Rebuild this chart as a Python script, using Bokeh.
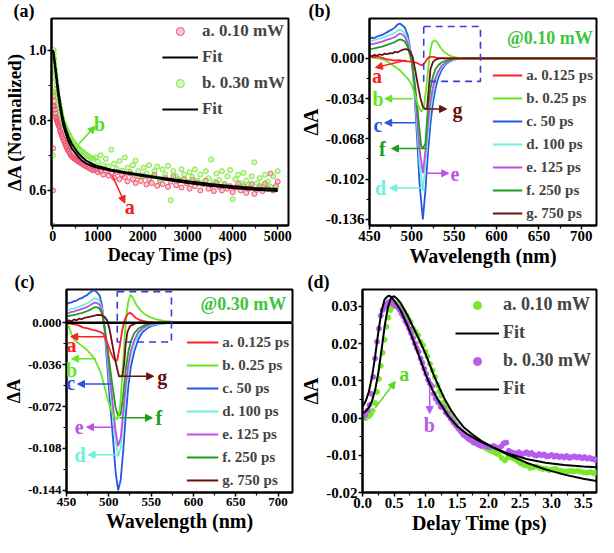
from bokeh.plotting import figure
from bokeh.layouts import row, column
from bokeh.models import (Range1d, FixedTicker, PrintfTickFormatter, Legend, LegendItem,
                          Label, Arrow, NormalHead, Span, BoxAnnotation, Title)
from bokeh.embed import file_html
from bokeh.resources import INLINE

FONT = "Liberation Serif"

# ---------------- panel (a) data: (time ps, normalized dA) ----------------
A_RED = [(0,0.50),(4,0.60),(8,0.72),(12,0.84),(16,0.88),(22,0.87),(30,0.855),(40,0.84),(50,0.83),(60,0.82),
         (70,0.81),(80,0.805),(90,0.80),(100,0.795),(115,0.79),(130,0.785),(145,0.78),(160,0.77),(175,0.765),
         (190,0.76),(210,0.752),(230,0.746),(250,0.74),(270,0.733),(290,0.727),(310,0.722),(330,0.716),
         (350,0.712),(375,0.706),(400,0.70),(425,0.697),(450,0.694),(480,0.69),(510,0.688),(540,0.685),
         (570,0.682),(600,0.68),(640,0.676),(680,0.673),(720,0.67),(760,0.668),(800,0.664),(850,0.66),
         (900,0.657),(950,0.66),(1000,0.652),(1060,0.655),(1120,0.645),(1180,0.656),(1240,0.642),(1300,0.65),
         (1360,0.636),(1420,0.652),(1480,0.632),(1540,0.645),(1600,0.638),(1660,0.626),(1720,0.648),
         (1780,0.632),(1840,0.621),(1900,0.64),(1960,0.627),(2020,0.641),(2080,0.617),(2140,0.633),
         (2200,0.621),(2260,0.644),(2320,0.613),(2380,0.628),(2440,0.618),(2500,0.635),(2560,0.61),
         (2620,0.625),(2680,0.64),(2740,0.615),(2800,0.628),(2860,0.608),(2920,0.632),(2980,0.62),
         (3040,0.605),(3100,0.63),(3160,0.612),(3220,0.622),(3280,0.60),(3340,0.618),(3400,0.628),
         (3460,0.605),(3520,0.615),(3580,0.598),(3640,0.622),(3700,0.61),(3760,0.60),(3820,0.618),
         (3880,0.605),(3940,0.612),(4000,0.595),(4060,0.608),(4120,0.62),(4180,0.60),(4240,0.612),
         (4300,0.593),(4360,0.605),(4420,0.618),(4480,0.59),(4540,0.602),(4600,0.612),(4660,0.598),
         (4720,0.62),(4780,0.605),(4840,0.648),(4900,0.60),(4960,0.612),(5000,0.625)]
A_GRN = [(0,0.50),(4,0.70),(8,0.88),(12,0.97),(16,1.0),(22,0.99),(30,0.975),(40,0.96),(50,0.945),(60,0.93),
         (70,0.915),(80,0.90),(90,0.89),(100,0.88),(115,0.865),(130,0.855),(145,0.845),(160,0.835),
         (175,0.825),(190,0.815),(210,0.805),(230,0.795),(250,0.79),(270,0.782),(290,0.776),(310,0.77),
         (330,0.765),(350,0.76),(375,0.755),(400,0.748),(425,0.742),(450,0.738),(480,0.733),(510,0.728),
         (540,0.725),(570,0.72),(600,0.716),(640,0.712),(680,0.708),(720,0.704),(760,0.70),(800,0.697),
         (850,0.692),(900,0.69),(950,0.694),(1000,0.682),(1060,0.70),(1120,0.672),(1180,0.69),(1240,0.668),
         (1300,0.716),(1360,0.676),(1420,0.662),(1480,0.684),(1540,0.656),(1600,0.694),(1660,0.665),
         (1720,0.652),(1780,0.672),(1840,0.685),(1900,0.655),(1960,0.642),(2020,0.665),(2080,0.648),
         (2140,0.672),(2200,0.64),(2260,0.655),(2320,0.668),(2380,0.63),(2440,0.66),(2500,0.645),
         (2560,0.67),(2620,0.572),(2680,0.655),(2740,0.64),(2800,0.632),(2860,0.66),(2920,0.645),
         (2980,0.625),(3040,0.652),(3100,0.638),(3160,0.66),(3220,0.628),(3280,0.645),(3340,0.62),
         (3400,0.655),(3460,0.635),(3520,0.688),(3580,0.625),(3640,0.648),(3700,0.63),(3760,0.655),
         (3820,0.618),(3880,0.64),(3940,0.658),(4000,0.575),(4060,0.632),(4120,0.645),(4180,0.62),
         (4240,0.65),(4300,0.628),(4360,0.615),(4420,0.64),(4480,0.68),(4540,0.62),(4600,0.635),
         (4660,0.612),(4720,0.645),(4780,0.625),(4840,0.61),(4900,0.64),(4960,0.605),(5000,0.655)]
A_FIT_1 = [(0,1.0),(20,0.985),(40,0.96),(75,0.92),(110,0.88),(142,0.85),(175,0.825),(210,0.80),(245,0.78),
           (290,0.76),(345,0.74),(420,0.72),(550,0.698),(650,0.685),(750,0.676),(950,0.666),(1300,0.656),
           (1650,0.648),(2000,0.641),(2300,0.635),(2700,0.627),(3000,0.621),(3500,0.613),(4000,0.607),
           (4500,0.602),(5000,0.598)]
A_FIT_2 = [(0,1.0),(20,0.99),(40,0.97),(75,0.935),(110,0.898),(142,0.868),(175,0.84),(210,0.815),(245,0.795),
           (290,0.774),(345,0.754),(420,0.733),(550,0.708),(650,0.695),(750,0.684),(950,0.671),(1300,0.659),
           (1650,0.651),(2000,0.644),(2300,0.638),(2700,0.631),(3000,0.626),(3500,0.618),(4000,0.612),
           (4500,0.607),(5000,0.604)]
A_XTICKS = [0, 1000, 2000, 3000, 4000, 5000]
A_YTICKS = [0.6, 0.8, 1.0]

# ---------------- panel (b) data: (wavelength nm, dA) @0.10 mW ----------------
B_A = [(450,0.0018),(455,0.001),(460,0.0016),(465,0.0004),(470,-0.0006),(475,-0.0012),(480,-0.0018),
       (485,-0.0015),(490,-0.0022),(495,-0.0025),(500,-0.003),(505,-0.0035),(509,-0.005),(512,-0.0058),
       (515,-0.004),(518,-0.0005),(521,0.0012),(525,0.0012),(530,0.0005),(540,0.0),(718,0.0)]
B_B = [(450,0.001),(455,0.0005),(460,0.0),(465,-0.0008),(470,-0.002),(475,-0.0045),(480,-0.007),
       (485,-0.0095),(490,-0.013),(495,-0.017),(499,-0.021),(503,-0.029),(507,-0.039),(511,-0.045),
       (514,-0.042),(517,-0.025),(520,-0.004),(522,0.007),(524,0.0135),(527,0.0155),(530,0.0135),
       (534,0.009),(538,0.0055),(543,0.003),(548,0.0015),(555,0.0005),(565,0.0),(718,0.0)]
B_C = [(450,0.0165),(453,0.0175),(456,0.0172),(459,0.0185),(462,0.0192),(465,0.0198),(468,0.021),
       (471,0.0222),(474,0.0235),(477,0.0245),(480,0.0262),(483,0.0285),(486,0.0295),(489,0.0278),
       (492,0.0255),(495,0.020),(498,0.008),(500,0.0),(503,-0.028),(506,-0.065),(509,-0.105),(513,-0.136),
       (516,-0.112),(519,-0.08),(522,-0.055),(525,-0.037),(528,-0.025),(531,-0.017),(535,-0.010),
       (540,-0.005),(545,-0.0025),(550,-0.001),(556,0.0),(718,0.0)]
B_D = [(450,0.0145),(453,0.015),(456,0.0155),(459,0.016),(462,0.0168),(465,0.0172),(468,0.018),
       (471,0.019),(474,0.0198),(477,0.0205),(480,0.0215),(483,0.0235),(486,0.0245),(489,0.023),
       (492,0.021),(495,0.016),(498,0.006),(500,-0.002),(503,-0.025),(506,-0.055),(509,-0.088),
       (513,-0.112),(516,-0.09),(519,-0.063),(522,-0.043),(525,-0.029),(528,-0.019),(531,-0.013),
       (535,-0.008),(540,-0.004),(545,-0.002),(550,-0.001),(556,0.0),(718,0.0)]
B_E = [(450,0.0115),(453,0.012),(456,0.0125),(459,0.013),(462,0.0138),(465,0.0142),(468,0.015),
       (471,0.0158),(474,0.0165),(477,0.0172),(480,0.018),(483,0.0198),(486,0.021),(489,0.020),
       (492,0.018),(495,0.013),(498,0.004),(500,-0.003),(503,-0.022),(506,-0.048),(509,-0.076),
       (513,-0.097),(516,-0.078),(519,-0.054),(522,-0.036),(525,-0.024),(528,-0.016),(531,-0.011),
       (535,-0.0065),(540,-0.0035),(545,-0.0015),(550,-0.0005),(556,0.0),(718,0.0)]
B_F = [(450,0.0078),(453,0.008),(456,0.0085),(459,0.009),(462,0.0096),(465,0.010),(468,0.0108),
       (471,0.0115),(474,0.0122),(477,0.013),(480,0.0138),(483,0.0152),(486,0.016),(489,0.0155),
       (492,0.014),(495,0.010),(498,0.002),(500,-0.004),(503,-0.018),(506,-0.038),(509,-0.06),
       (511,-0.074),(513,-0.076),(516,-0.072),(519,-0.042),(522,-0.025),(525,-0.015),(528,-0.009),
       (531,-0.006),(535,-0.0035),(540,-0.002),(545,-0.001),(550,0.0),(718,0.0)]
B_G = [(450,0.0025),(453,0.0018),(456,0.003),(459,0.0022),(462,0.0035),(465,0.0028),(468,0.004),
       (471,0.0035),(474,0.0045),(477,0.0042),(480,0.0055),(483,0.005),(486,0.0062),(489,0.0072),
       (492,0.0078),(495,0.0075),(498,0.006),(501,0.001),(504,-0.010),(507,-0.022),(510,-0.033),
       (513,-0.041),(516,-0.043),(518,-0.042),(520,-0.025),(522,-0.009),(525,-0.003),(528,-0.001),
       (532,0.0),(718,0.0)]
B_XTICKS = [450, 500, 550, 600, 650, 700]
B_YTICKS = [0.0, -0.034, -0.068, -0.102, -0.136]

# ---------------- panel (c) data: (wavelength nm, dA) @0.30 mW ----------------
C_A = [(450,0.0),(455,-0.001),(460,-0.0015),(465,-0.0025),(470,-0.0042),(475,-0.0048),(480,-0.006),
       (485,-0.0068),(490,-0.008),(493,-0.0092),(496,-0.013),(499,-0.019),(502,-0.025),(505,-0.030),
       (508,-0.033),(510,-0.032),(513,-0.020),(516,-0.006),(519,0.003),(522,0.0072),(525,0.0085),
       (528,0.007),(532,0.004),(536,0.0025),(540,0.0015),(547,0.0005),(555,0.0),(717,0.0)]
C_B = [(450,0.001),(453,-0.004),(456,-0.010),(459,-0.0145),(462,-0.0165),(465,-0.018),(470,-0.021),
       (475,-0.024),(480,-0.028),(483,-0.031),(487,-0.037),(490,-0.042),(494,-0.052),(498,-0.064),
       (502,-0.074),(506,-0.080),(510,-0.083),(513,-0.075),(516,-0.045),(519,-0.010),(521,0.008),
       (523,0.018),(525.5,0.024),(528,0.022),(532,0.016),(537,0.011),(542,0.0075),(548,0.005),
       (555,0.003),(565,0.0015),(580,0.0005),(600,0.0),(717,0.0)]
C_C = [(450,0.0158),(453,0.017),(456,0.0175),(459,0.0185),(462,0.019),(465,0.0205),(468,0.021),
       (471,0.0225),(474,0.0235),(477,0.0255),(480,0.027),(483,0.0278),(486,0.026),(489,0.0235),
       (492,0.015),(495,-0.006),(498,-0.035),(501,-0.065),(505,-0.100),(508,-0.128),(511,-0.144),
       (514,-0.135),(517,-0.110),(520,-0.080),(523,-0.055),(526,-0.038),(530,-0.025),(535,-0.014),
       (540,-0.008),(545,-0.005),(550,-0.003),(560,-0.001),(575,0.0),(717,0.0)]
C_D = [(450,0.0105),(453,0.011),(456,0.0118),(459,0.012),(462,0.0132),(465,0.0138),(468,0.0145),
       (471,0.0155),(474,0.0165),(477,0.0178),(480,0.0195),(483,0.021),(486,0.0205),(489,0.0185),
       (492,0.012),(495,-0.004),(498,-0.028),(501,-0.052),(505,-0.082),(508,-0.102),(511,-0.115),
       (514,-0.107),(517,-0.084),(520,-0.060),(523,-0.041),(526,-0.028),(530,-0.018),(535,-0.010),
       (540,-0.006),(545,-0.0035),(550,-0.002),(560,-0.0008),(575,0.0),(717,0.0)]
C_E = [(450,0.0079),(453,0.0085),(456,0.0092),(459,0.0095),(462,0.0105),(465,0.011),(468,0.0118),
       (471,0.0125),(474,0.0135),(477,0.0145),(480,0.016),(483,0.0172),(486,0.017),(489,0.0155),
       (492,0.010),(495,-0.004),(498,-0.024),(501,-0.045),(505,-0.072),(508,-0.093),(511,-0.106),
       (514,-0.099),(517,-0.077),(520,-0.053),(523,-0.036),(526,-0.024),(530,-0.015),(535,-0.008),
       (540,-0.0045),(545,-0.0025),(550,-0.0012),(560,-0.0004),(575,0.0),(717,0.0)]
C_F = [(450,0.0053),(453,0.0058),(456,0.0062),(459,0.0066),(462,0.0072),(465,0.0078),(468,0.0083),
       (471,0.009),(474,0.0098),(477,0.0108),(480,0.012),(483,0.0132),(486,0.0133),(489,0.012),
       (492,0.0075),(495,-0.004),(498,-0.019),(501,-0.036),(505,-0.058),(508,-0.073),(511,-0.080),
       (514,-0.079),(517,-0.062),(520,-0.040),(523,-0.025),(526,-0.016),(530,-0.009),(535,-0.005),
       (540,-0.003),(545,-0.0015),(550,-0.0006),(560,0.0),(717,0.0)]
C_G = [(450,0.0005),(453,0.002),(456,0.0012),(459,0.0028),(462,0.002),(465,0.0035),(468,0.003),
       (471,0.0042),(474,0.0045),(477,0.005),(480,0.0055),(483,0.006),(486,0.0066),(489,0.0068),
       (492,0.0062),(495,0.005),(498,0.002),(501,-0.006),(504,-0.018),(507,-0.030),(510,-0.040),
       (512,-0.046),(516,-0.046),(518,-0.036),(520,-0.018),(522,-0.008),(525,-0.003),(530,-0.001),
       (535,0.0),(717,0.0)]
C_XTICKS = [450, 500, 550, 600, 650, 700]
C_YTICKS = [0.0, -0.036, -0.072, -0.108, -0.144]

# ---------------- panel (d) data: (delay ps, dA) ----------------
D_GRN = [(0.0,-0.0003),(0.05,0.0),(0.1,0.0005),(0.13,0.001),(0.16,0.002),(0.2,0.004),(0.23,0.007),
         (0.26,0.0105),(0.29,0.014),(0.32,0.0175),(0.35,0.021),(0.38,0.0245),(0.41,0.027),(0.44,0.029),
         (0.47,0.030),(0.5,0.0305),(0.53,0.0308),(0.56,0.0305),(0.6,0.030),(0.63,0.0292),(0.66,0.0285),
         (0.7,0.0275),(0.73,0.0265),(0.76,0.0258),(0.8,0.024),(0.84,0.0232),(0.88,0.0222),(0.92,0.0205),
         (0.96,0.0195),(1.0,0.0178),(1.03,0.0165),(1.07,0.0145),(1.11,0.0128),(1.15,0.011),(1.19,0.0088),
         (1.22,0.0072),(1.25,0.006),(1.29,0.0042),(1.33,0.0028),(1.37,0.0015),(1.41,0.0003),(1.45,-0.0008),
         (1.49,-0.0018),(1.53,-0.003),(1.57,-0.0038),(1.61,-0.0045),(1.66,-0.005),(1.71,-0.0055),
         (1.76,-0.006),(1.81,-0.0066),(1.86,-0.0072),(1.91,-0.0076),(1.96,-0.0082),(2.01,-0.0086),
         (2.06,-0.009),(2.11,-0.0094),(2.16,-0.0098),(2.21,-0.0108),(2.26,-0.0114),(2.31,-0.0105),
         (2.36,-0.0106),(2.41,-0.011),(2.46,-0.0116),(2.51,-0.0122),(2.56,-0.0126),(2.61,-0.0128),
         (2.66,-0.0134),(2.71,-0.0132),(2.76,-0.013),(2.81,-0.0134),(2.86,-0.0137),(2.91,-0.0136),
         (2.96,-0.014),(3.01,-0.0138),(3.06,-0.0136),(3.11,-0.0141),(3.16,-0.0142),(3.21,-0.0144),
         (3.26,-0.0143),(3.31,-0.0142),(3.36,-0.0143),(3.41,-0.0142),(3.46,-0.0144),(3.51,-0.0146),
         (3.56,-0.0147),(3.61,-0.0145),(3.66,-0.0148),(3.7,-0.0146)]
D_PUR = [(0.0,0.0),(0.04,0.0008),(0.08,0.002),(0.11,0.0035),(0.14,0.0065),(0.17,0.011),(0.2,0.016),
         (0.23,0.0205),(0.26,0.024),(0.29,0.0275),(0.32,0.029),(0.35,0.0298),(0.38,0.0305),(0.41,0.031),
         (0.44,0.0312),(0.47,0.0308),(0.5,0.0305),(0.53,0.030),(0.56,0.0298),(0.59,0.029),(0.62,0.028),
         (0.65,0.0272),(0.68,0.026),(0.71,0.0252),(0.74,0.024),(0.77,0.0228),(0.8,0.0215),(0.83,0.020),
         (0.86,0.0188),(0.89,0.0178),(0.92,0.016),(0.95,0.0148),(0.98,0.0132),(1.01,0.0118),(1.04,0.0102),
         (1.07,0.0092),(1.1,0.0085),(1.13,0.0065),(1.16,0.0052),(1.2,0.0042),(1.24,0.003),(1.28,0.0028),
         (1.32,0.0015),(1.36,0.0008),(1.4,-0.0002),(1.44,-0.0012),(1.48,-0.002),(1.52,-0.0028),
         (1.56,-0.0036),(1.6,-0.0045),(1.64,-0.005),(1.68,-0.0056),(1.72,-0.006),(1.76,-0.0066),
         (1.8,-0.0068),(1.84,-0.0072),(1.88,-0.0075),(1.92,-0.0074),(1.96,-0.0076),(2.0,-0.0078),
         (2.04,-0.0077),(2.08,-0.0075),(2.12,-0.0079),(2.16,-0.0081),(2.2,-0.0076),(2.24,-0.0068),
         (2.28,-0.0066),(2.32,-0.0088),(2.36,-0.0092),(2.4,-0.0094),(2.44,-0.0096),(2.48,-0.0092),
         (2.52,-0.0098),(2.56,-0.0095),(2.6,-0.0092),(2.64,-0.0097),(2.68,-0.0094),(2.72,-0.0099),
         (2.76,-0.0101),(2.8,-0.0097),(2.84,-0.010),(2.88,-0.0098),(2.92,-0.0103),(2.96,-0.0102),
         (3.0,-0.0099),(3.04,-0.0104),(3.08,-0.0101),(3.12,-0.0105),(3.16,-0.0103),(3.2,-0.0106),
         (3.24,-0.0102),(3.28,-0.0107),(3.32,-0.0105),(3.36,-0.0103),(3.4,-0.0106),(3.44,-0.0104),
         (3.48,-0.0108),(3.52,-0.0105),(3.56,-0.0109),(3.6,-0.0107),(3.64,-0.011),(3.68,-0.0111),(3.7,-0.0113)]
D_FIT_A = [(0.0,0.0012),(0.05,0.0018),(0.1,0.0028),(0.15,0.0045),(0.2,0.0075),(0.25,0.012),(0.3,0.018),
           (0.35,0.0245),(0.4,0.0295),(0.45,0.0322),(0.5,0.0327),(0.55,0.032),(0.6,0.031),(0.7,0.028),
           (0.8,0.0245),(0.9,0.021),(1.0,0.0172),(1.13,0.0115),(1.2,0.0088),(1.3,0.0052),(1.4,0.0022),
           (1.49,0.0),(1.6,-0.0024),(1.75,-0.0045),(1.9,-0.0063),(2.06,-0.0078),(2.3,-0.0098),
           (2.6,-0.012),(2.9,-0.0138),(3.2,-0.0152),(3.5,-0.0163),(3.71,-0.0169)]
D_FIT_B = [(0.0,0.003),(0.05,0.0045),(0.1,0.007),(0.15,0.011),(0.2,0.0165),(0.25,0.023),(0.3,0.0285),
           (0.35,0.0318),(0.4,0.0327),(0.43,0.0328),(0.47,0.0322),(0.5,0.0316),(0.6,0.029),(0.7,0.0253),
           (0.8,0.0212),(0.9,0.0165),(1.0,0.0118),(1.1,0.0078),(1.2,0.0048),(1.36,0.0005),(1.5,-0.0022),
           (1.65,-0.0042),(1.83,-0.006),(2.06,-0.0078),(2.3,-0.0095),(2.6,-0.011),(2.9,-0.012),
           (3.2,-0.0126),(3.5,-0.013),(3.71,-0.0132)]
D_XTICKS = [0.0, 0.5, 1.0, 1.5, 2.0, 2.5, 3.0, 3.5]
D_YTICKS = [-0.02, -0.01, 0.0, 0.01, 0.02, 0.03]

# ---------------- colours ----------------
COL = dict(a="#ff2020", b="#66e626", c="#2a55e0", d="#6ff0dc", e="#c24ee8", f="#1e9e1e", g="#6b1111")
A_RED_COL = "#f0506e"
A_GRN_COL = "#7fe83a"
D_GRN_COL = "#7ae82a"
D_PUR_COL = "#b85cf0"
BOX_COL = "#3b3bd6"
NOTE_COL = "#3ec43e"


def split(pairs):
    return [p[0] for p in pairs], [p[1] for p in pairs]


def midpoints(t):
    return [(t[i] + t[i + 1]) / 2 for i in range(len(t) - 1)]


def make_fig(w, h, xr, yr, bl, br, bt, bb, letter, letter_dx):
    p = figure(width=w, height=h, x_range=Range1d(*xr), y_range=Range1d(*yr),
               output_backend="svg", toolbar_location=None,
               min_border_left=bl, min_border_right=br, min_border_top=bt, min_border_bottom=bb)
    # panel letter drawn as a title in the top border, shifted left of the frame
    p.title = Title(text=letter, align="left", offset=letter_dx, standoff=-4, vertical_align="bottom",
                    text_font=FONT, text_font_style="bold", text_font_size="18px", text_color="black")
    p.grid.visible = False
    p.outline_line_color = "black"
    p.outline_line_width = 2
    p.outline_line_alpha = 1
    return p


def style_axes(p, xlabel, ylabel, xt, yt, xfmt, yfmt, tick_px, xtitle_px, ytitle_px):
    p.xaxis.axis_label = xlabel
    p.yaxis.axis_label = ylabel
    p.xaxis.ticker = FixedTicker(ticks=xt, minor_ticks=midpoints(xt))
    p.yaxis.ticker = FixedTicker(ticks=yt, minor_ticks=midpoints(yt))
    p.xaxis.formatter = PrintfTickFormatter(format=xfmt)
    p.yaxis.formatter = PrintfTickFormatter(format=yfmt)
    for ax, tp in ((p.xaxis[0], xtitle_px), (p.yaxis[0], ytitle_px)):
        ax.axis_line_width = 2
        ax.major_tick_in = 0
        ax.major_tick_out = 4
        ax.minor_tick_in = 0
        ax.minor_tick_out = 3
        ax.major_tick_line_width = 1.5
        ax.minor_tick_line_width = 1.2
        ax.major_label_text_font = FONT
        ax.major_label_text_font_style = "bold"
        ax.major_label_text_font_size = tick_px
        ax.major_label_text_color = "black"
        ax.major_label_standoff = 1
        ax.axis_label_text_font = FONT
        ax.axis_label_text_font_style = "bold"
        ax.axis_label_text_font_size = tp
        ax.axis_label_text_color = "black"
        ax.axis_label_standoff = 1


def label(p, text, x, y, color, size="20px", align="center", baseline="middle"):
    p.add_layout(Label(x=x, y=y, text=text, text_color=color, text_font=FONT,
                       text_font_style="bold", text_font_size=size, text_align=align,
                       text_baseline=baseline))


def arrow(p, x0, y0, x1, y1, color):
    p.add_layout(Arrow(end=NormalHead(size=7, fill_color=color, line_color=color, line_width=1),
                       x_start=x0, y_start=y0, x_end=x1, y_end=y1,
                       line_color=color, line_width=1.5))


def box(p, l, r, t, b):
    p.add_layout(BoxAnnotation(left=l, right=r, top=t, bottom=b, fill_alpha=0, line_alpha=1,
                               line_color=BOX_COL, line_dash="7 5", line_width=1.6))


def legend(p, items, font_px, glyph_w, loc, margin, spacing, row_h=20):
    lg = Legend(items=items, location=loc, margin=margin, padding=0, spacing=spacing,
                glyph_width=glyph_w, glyph_height=row_h, label_height=row_h, label_standoff=4,
                label_text_font=FONT, label_text_font_style="bold", label_text_font_size=font_px,
                background_fill_alpha=0, border_line_alpha=0)
    p.add_layout(lg)


labels_b = ["a. 0.125 ps", "b. 0.25 ps", "c. 50 ps", "d. 100 ps", "e. 125 ps", "f. 250 ps", "g. 750 ps"]

# ================= panel (a) =================
pa = make_fig(296, 271, (-30, 5240), (0.5, 1.09), 32, 8, 0, 46, "(a)", -38)
style_axes(pa, "Decay Time (ps)", "\u0394A (Normalized)", A_XTICKS, A_YTICKS, "%d", "%.1f",
           "14px", "18px", "19px")
x, y = split(A_RED)
r_red = pa.scatter(x, y, marker="circle", size=5, line_color=A_RED_COL, fill_color=A_RED_COL,
                   fill_alpha=0.3, line_width=1)
x, y = split(A_GRN)
r_grn = pa.scatter(x, y, marker="circle", size=5, line_color=A_GRN_COL, fill_color=A_GRN_COL,
                   fill_alpha=0.3, line_width=1)
x, y = split(A_FIT_1)
f1 = pa.line(x, y, line_color="black", line_width=2)
x, y = split(A_FIT_2)
f2 = pa.line(x, y, line_color="black", line_width=2)
legend(pa, [LegendItem(label="a. 0.10 mW", renderers=[r_red]), LegendItem(label="Fit", renderers=[f1]),
            LegendItem(label="b. 0.30 mW", renderers=[r_grn]), LegendItem(label="Fit", renderers=[f2])],
       "17px", 36, "top_right", 3, 6)
arrow(pa, 585, 0.734, 940, 0.783, "#55dd22")
label(pa, "b", 1040, 0.79, "#55dd22")
arrow(pa, 1330, 0.64, 1600, 0.564, "#ee2222")
label(pa, "a", 1710, 0.552, "#ee2222")

# ================= panel (b) =================
pb = make_fig(302, 271, (450, 718), (-0.1412, 0.0337), 66, 2, 0, 46, "(b)", -61)
style_axes(pb, "Wavelength (nm)", "\u0394A", B_XTICKS, B_YTICKS, "%d", "%.3f", "15px", "20px", "20px")
rb = {}
for key, data in (("c", B_C), ("d", B_D), ("e", B_E), ("f", B_F), ("b", B_B), ("a", B_A), ("g", B_G)):
    x, y = split(data)
    rb[key] = pb.line(x, y, line_color=COL[key], line_width=1.8)
box(pb, 514, 581, 0.027, -0.0194)
legend(pb, [LegendItem(label=t, renderers=[rb[k]]) for t, k in zip(labels_b, "abcdefg")],
       "15px", 30, "bottom_right", 3, 5, 18)
label(pb, "@0.10 mW", 663, 0.0169, NOTE_COL, size="18px")
arrow(pb, 493, -0.0016, 457, -0.0078, COL["a"]); label(pb, "a", 459, -0.0148, COL["a"])
arrow(pb, 501, -0.034, 468, -0.034, COL["b"]); label(pb, "b", 460, -0.034, COL["b"])
arrow(pb, 504, -0.0544, 468, -0.0544, COL["c"]); label(pb, "c", 460, -0.056, COL["c"])
arrow(pb, 517.6, -0.0427, 541, -0.0427, COL["g"]); label(pb, "g", 554, -0.0435, COL["g"])
arrow(pb, 517.6, -0.0762, 476, -0.0762, COL["f"]); label(pb, "f", 465, -0.0768, COL["f"])
arrow(pb, 517.6, -0.0971, 543.5, -0.0971, COL["e"]); label(pb, "e", 551, -0.0975, COL["e"])
arrow(pb, 515, -0.1096, 474, -0.1096, COL["d"]); label(pb, "d", 463, -0.1096, COL["d"])

# ================= panel (c) =================
pc = make_fig(296, 266, (450, 717), (-0.1458, 0.0285), 52, 4, 5, 40, "(c)", -52)
style_axes(pc, "Wavelength (nm)", "\u0394A", C_XTICKS, C_YTICKS, "%d", "%.3f", "13px", "20px", "18px")
rc = {}
for key, data in (("c", C_C), ("d", C_D), ("e", C_E), ("f", C_F), ("b", C_B), ("a", C_A), ("g", C_G)):
    x, y = split(data)
    rc[key] = pc.line(x, y, line_color=COL[key], line_width=1.8)
pc.add_layout(Span(location=0, dimension="width", line_color="black", line_width=2.5))
box(pc, 510, 574, 0.0267, -0.0166)
legend(pc, [LegendItem(label=t, renderers=[rc[k]]) for t, k in zip(labels_b, "abcdefg")],
       "15px", 32, "bottom_right", 3, 5, 18)
label(pc, "@0.30 mW", 659, 0.0162, NOTE_COL, size="18px")
arrow(pc, 497, -0.012, 455, -0.012, COL["a"]); label(pc, "a", 456, -0.0195, COL["a"])
arrow(pc, 485, -0.031, 456, -0.031, COL["b"]); label(pc, "b", 456, -0.041, COL["b"])
arrow(pc, 503, -0.0527, 463, -0.0527, COL["c"]); label(pc, "c", 455, -0.052, COL["c"])
arrow(pc, 516, -0.046, 553, -0.046, COL["g"]); label(pc, "g", 563, -0.047, COL["g"])
arrow(pc, 512.6, -0.0817, 551.5, -0.0817, COL["f"]); label(pc, "f", 559, -0.0817, COL["f"])
arrow(pc, 507, -0.0897, 473.7, -0.0897, COL["e"]); label(pc, "e", 465, -0.0897, COL["e"])
arrow(pc, 512.6, -0.1134, 475.5, -0.1134, COL["d"]); label(pc, "d", 466, -0.1134, COL["d"])

# ================= panel (d) =================
pd = make_fig(302, 266, (0, 3.71), (-0.02, 0.0345), 66, 2, 1, 45, "(d)", -55)
style_axes(pd, "Delay Time (ps)", "\u0394A", D_XTICKS, D_YTICKS, "%.1f", "%.2f", "15px", "20px", "20px")
x, y = split(D_GRN)
r_dg = pd.scatter(x, y, marker="circle", size=5, line_color=D_GRN_COL, fill_color=D_GRN_COL)
x, y = split(D_PUR)
r_dp = pd.scatter(x, y, marker="circle", size=5, line_color=D_PUR_COL, fill_color=D_PUR_COL)
x, y = split(D_FIT_A)
fa = pd.line(x, y, line_color="black", line_width=2)
x, y = split(D_FIT_B)
fb = pd.line(x, y, line_color="black", line_width=2)
legend(pd, [LegendItem(label="a. 0.10 mW", renderers=[r_dg]), LegendItem(label="Fit", renderers=[fa]),
            LegendItem(label="b. 0.30 mW", renderers=[r_dp]), LegendItem(label="Fit", renderers=[fb])],
       "18px", 44, "top_right", 5, 7)
arrow(pd, 0.2, 0.0027, 0.52, 0.0098, "#55dd22"); label(pd, "a", 0.66, 0.0117, "#55dd22")
arrow(pd, 1.065, 0.0083, 1.065, 0.0012, D_PUR_COL); label(pd, "b", 1.06, -0.0018, D_PUR_COL)

layout = column(row(pa, pb), row(pc, pd))
open("out.html", "w").write(file_html(layout, INLINE))
